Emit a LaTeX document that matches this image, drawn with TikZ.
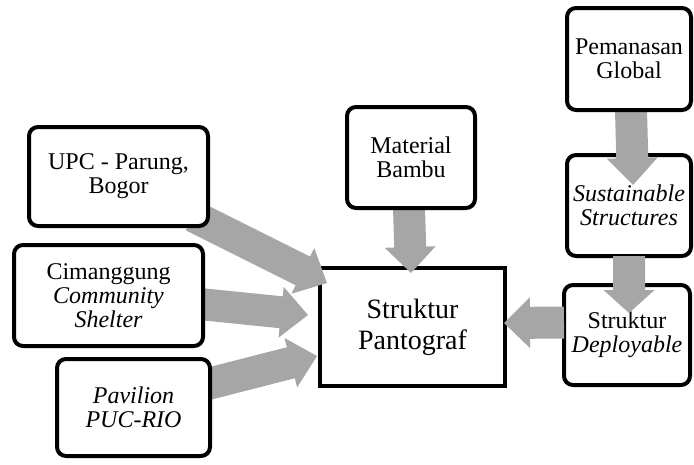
\documentclass[tikz,border=0pt]{standalone}
\usepackage{fontspec}
\setmainfont{Liberation Serif}
\usetikzlibrary{calc}
\definecolor{arrgray}{RGB}{166,166,166}
\newcommand\blockarrow[3]{%
  \coordinate (ahb) at ($(#2)!#3!(#1)$);
  \fill[arrgray] ($(#1)!16pt!90:(#2)$) -- ($(ahb)!16pt!90:(#2)$) -- ($(ahb)!25.5pt!90:(#2)$) -- (#2)
    -- ($(ahb)!25.5pt!-90:(#2)$) -- ($(ahb)!16pt!-90:(#2)$) -- ($(#1)!16pt!-90:(#2)$) -- cycle;}
\begin{document}
\begin{tikzpicture}[x=1pt,y=-1pt,
  box/.style={draw, line width=4pt, rounded corners=9pt, fill=white, align=center,
    inner sep=0pt, font=\fontsize{24}{24}\selectfont},
  mainbox/.style={draw, line width=4pt, fill=white, align=center,
    inner sep=0pt, font=\fontsize{28}{31}\selectfont}]
\useasboundingbox (0,0) rectangle (694,464);
% target boxes
\node[mainbox, minimum width=185pt, minimum height=118pt] (pan) at (412.5,327) {Struktur\\Pantograf};
\node[box, minimum width=124pt, minimum height=101pt] (sus) at (629,205.5) {\itshape Sustainable\\\itshape Structures};
\node[box, minimum width=126pt, minimum height=100pt] (dep) at (627,335) {Struktur\\\itshape Deployable};
% arrow end points
\coordinate (pemS) at (631,110); \coordinate (susT) at (633,185);
\coordinate (susS) at (629,256); \coordinate (depT) at (629,313);
\coordinate (matS) at (409,208); \coordinate (panN) at (411,273);
\coordinate (depS) at (564,322.5); \coordinate (panE) at (504,323);
\coordinate (upcS) at (193,216); \coordinate (panNW) at (327,283);
\coordinate (cimS) at (190,303); \coordinate (panW) at (308,315);
\coordinate (pavS) at (200,386); \coordinate (panSW) at (317,356);
\blockarrow{pemS}{susT}{27pt}
\blockarrow{susS}{depT}{23pt}
\blockarrow{matS}{panN}{26pt}
\blockarrow{depS}{panE}{26pt}
\blockarrow{upcS}{panNW}{27pt}
\blockarrow{cimS}{panW}{27pt}
\blockarrow{pavS}{panSW}{27pt}
% source boxes
\node[box, minimum width=179pt, minimum height=99pt] (upc) at (118.5,176.5) {UPC - Parung,\\Bogor};
\node[box, minimum width=189pt, minimum height=101pt] (cim) at (108.5,295.5) {Cimanggung\\\itshape Community\\\itshape Shelter};
\node[box, minimum width=153pt, minimum height=97pt] (pav) at (133.5,407.5) {\itshape Pavilion\\\itshape PUC-RIO};
\node[box, minimum width=128pt, minimum height=101pt] (mat) at (411,157.5) {Material\\Bambu};
\node[box, minimum width=124pt, minimum height=102pt] (pem) at (629,59) {Pemanasan\\Global};
\end{tikzpicture}
\end{document}
